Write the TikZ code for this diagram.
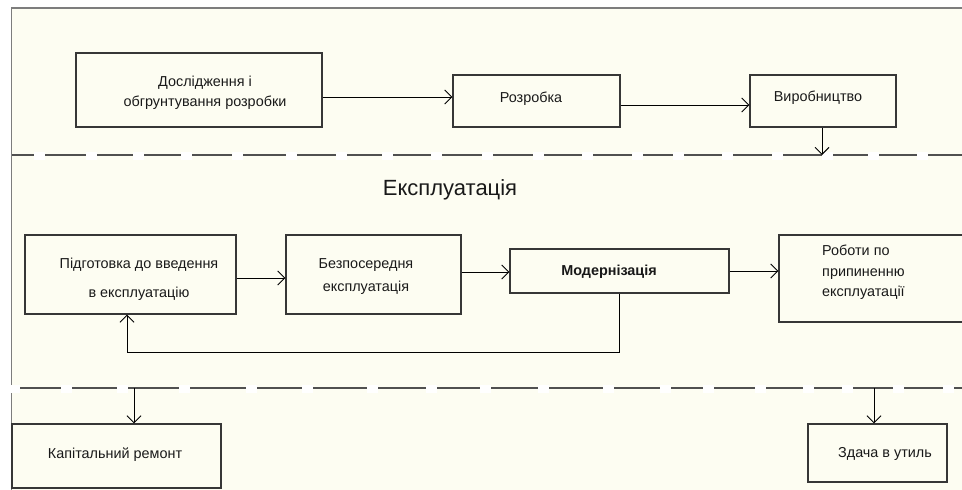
\documentclass[tikz,border=0pt]{standalone}
\usepackage{fontspec}
\setmainfont{Liberation Sans}
\usetikzlibrary{arrows.meta}
\definecolor{bgc}{RGB}{253,253,242}
\definecolor{bordc}{RGB}{125,125,125}
\definecolor{dashc}{RGB}{80,80,80}
\definecolor{boxc}{RGB}{55,55,55}
\definecolor{txtc}{RGB}{25,25,25}
\begin{document}
\begin{tikzpicture}[x=1pt,y=-1pt,
  box/.style={draw=boxc, line width=1.3pt, rectangle, inner sep=0pt},
  lbl/.style={inner sep=0pt, text=txtc, align=center, font=\fontsize{14.4pt}{20pt}\selectfont},
  arr/.style={draw=black, line width=0.9pt, -{Straight Barb[length=7pt,width=14pt]}},
  sep/.style={draw=dashc, line width=1.7pt},
  gap/.style={fill=white}]
\useasboundingbox (0,0) rectangle (962,490);
\clip (0,0) rectangle (962,490);
\fill[white] (0,0) rectangle (962,490);
\fill[bgc] (11.5,8) rectangle (962,490);
\draw[bordc, line width=1.2pt] (11.5,490) -- (11.5,8) -- (962,8);

% separators
\draw[sep] (12,155) -- (962,155);
\foreach \s in {35,87,134,182,233,287,337,383,432,483,534,583,633,674,723,773,823,869,918}
  \fill[gap] (\s-1.5,151.5) rectangle (\s+9.5,159.5);
\draw[sep] (12,388) -- (962,388);
\foreach \s in {10,62,118,180,247,303,368,427,481,539,604,661,704,756,804,843,894,944}
  \fill[gap] (\s-1.5,384.5) rectangle (\s+9.5,392.5);

% boxes
\node[box, minimum width=246pt, minimum height=74pt] (b1) at (199,90) {};
\node[box, minimum width=167pt, minimum height=52pt] (b2) at (536.5,101) {};
\node[box, minimum width=146pt, minimum height=52pt] (b3) at (823,101) {};
\node[box, minimum width=211pt, minimum height=79pt] (b4) at (130.5,274.5) {};
\node[box, minimum width=175pt, minimum height=79pt] (b5) at (373.5,274.5) {};
\node[box, minimum width=219pt, minimum height=44pt] (b6) at (619.5,271) {};
\node[box, minimum width=196pt, minimum height=87pt] (b7) at (877,278.5) {};
\node[box, minimum width=209pt, minimum height=64pt] (b8) at (116.5,456) {};
\node[box, minimum width=139pt, minimum height=58pt] (b9) at (877.5,453) {};

% texts
\node[lbl] (t1) at (205,93) {Дослідження і\\обгрунтування розробки};
\node[lbl] (t2) at (531,99) {Розробка};
\node[lbl] (t3) at (818,98) {Виробництво};
\node[lbl, font=\fontsize{22pt}{25pt}\selectfont] (te) at (450,190) {Експлуатація};
\node[lbl, font=\fontsize{14.4pt}{29pt}\selectfont] (t4) at (139,279.5) {Підготовка до введення\\в експлуатацію};
\node[lbl, font=\fontsize{14.4pt}{23pt}\selectfont] (t5) at (366,276.5) {Безпосередня\\експлуатація};
\node[lbl, font=\bfseries\fontsize{14.4pt}{20pt}\selectfont] (t6) at (609,272) {Модернізація};
\node[lbl, align=left, anchor=west, font=\fontsize{14.4pt}{20.5pt}\selectfont] (t7) at (822,272.5) {Роботи по\\припиненню\\експлуатації};
\node[lbl] (t8) at (115,455) {Капітальний ремонт};
\node[lbl] (t9) at (885,454) {Здача в утиль};

% connectors
\coordinate (a1) at ([yshift=-7pt]b1.east);
\draw[arr] (a1) -- (a1 -| b2.west);
\coordinate (a2) at ([yshift=-4pt]b2.east);
\draw[arr] (a2) -- (a2 -| b3.west);
\coordinate (d1) at (822,155);
\draw[arr] (d1 |- b3.south) -- (d1);
\coordinate (a3) at ([yshift=-3.5pt]b4.east);
\draw[arr] (a3) -- (a3 -| b5.west);
\coordinate (a4) at ([yshift=2.5pt]b5.east);
\draw[arr] (a4) -- (a4 -| b6.west);
\draw[arr] (b6.east) -- (b6.east -| b7.west);
\coordinate (f1) at ([xshift=-3.5pt]b4.south);
\draw[arr] (b6.south) -- ++(0,59) -| (f1);
\coordinate (d2) at (134,388);
\draw[arr] (d2) -- (d2 |- b8.north);
\coordinate (d3) at (874,388);
\draw[arr] (d3) -- (d3 |- b9.north);
\end{tikzpicture}
\end{document}
